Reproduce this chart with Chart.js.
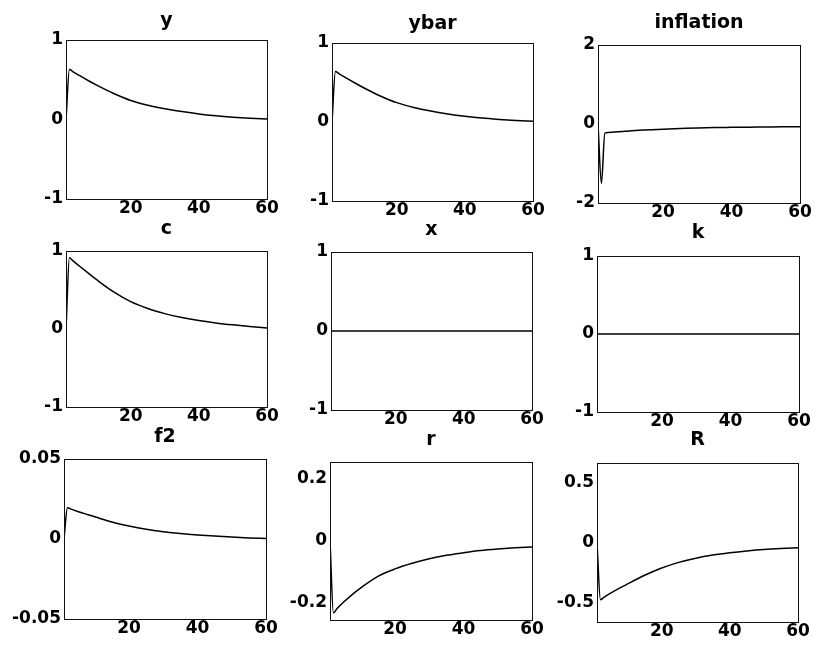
<!DOCTYPE html>
<html>
<head>
<meta charset="utf-8">
<script src="https://cdn.jsdelivr.net/npm/chart.js@4.4.0/dist/chart.umd.min.js"></script>
<style>
  body { margin: 0; background: #fff; }
  #fig { position: relative; width: 819px; height: 657px; overflow: hidden; background: #fff; }
  #fig canvas { position: absolute; }
</style>
</head>
<body>
<div id="fig"></div>
<script>
// impulse responses
const periods = [1, 2, 3, 5, 8, 10, 15, 20, 25, 30, 35, 40, 45, 50, 55, 60];

const yVals    = [0, 0.63, 0.603, 0.551, 0.478, 0.432, 0.327, 0.24, 0.18, 0.135, 0.1, 0.07, 0.047, 0.029, 0.015, 0.005];
const ybarVals = [0, 0.64, 0.613, 0.561, 0.487, 0.44, 0.333, 0.245, 0.184, 0.138, 0.102, 0.073, 0.05, 0.033, 0.019, 0.008];
const inflVals = [0, -1.5, -0.23, -0.21, -0.19, -0.175, -0.15, -0.13, -0.115, -0.1, -0.09, -0.085, -0.08, -0.075, -0.07, -0.07];
const cVals    = [0, 0.913, 0.876, 0.805, 0.7, 0.632, 0.475, 0.35, 0.262, 0.197, 0.147, 0.108, 0.078, 0.053, 0.031, 0.013];
const xVals    = [0, 0, 0, 0, 0, 0, 0, 0, 0, 0, 0, 0, 0, 0, 0, 0];
const kVals    = [0, 0, 0, 0, 0, 0, 0, 0, 0, 0, 0, 0, 0, 0, 0, 0];
const f2Vals   = [0, 0.0196, 0.0187, 0.0172, 0.0152, 0.0139, 0.0106, 0.0081, 0.0061, 0.0046, 0.0034, 0.0025, 0.0018, 0.0012, 0.0007, 0.0003];
const rVals    = [0, -0.232, -0.219, -0.197, -0.168, -0.151, -0.114, -0.09, -0.072, -0.057, -0.046, -0.038, -0.031, -0.026, -0.022, -0.019];
const RVals    = [0, -0.475, -0.456, -0.421, -0.373, -0.343, -0.272, -0.212, -0.165, -0.13, -0.104, -0.085, -0.07, -0.058, -0.05, -0.044];

const titles = ['y', 'ybar', 'inflation', 'c', 'x', 'k', 'f2', 'r', 'R'];
const series = [yVals, ybarVals, inflVals, cVals, xVals, kVals, f2Vals, rVals, RVals];
const yLimits = [1, 1, 2, 1, 1, 1, 0.05, 0.255, 0.66];
const yTickSets = [
  [-1, 0, 1], [-1, 0, 1], [-2, 0, 2],
  [-1, 0, 1], [-1, 0, 1], [-1, 0, 1],
  [-0.05, 0, 0.05], [-0.2, 0, 0.2], [-0.5, 0, 0.5]
];
const xTickVals = [20, 40, 60];

// plot boxes in page pixels [left, top, right, bottom] and title centre y
const boxes = [
  [66, 40, 267, 199], [332, 43, 533, 201], [598, 45, 800, 203],
  [66, 251, 267, 407], [331, 252, 532, 410], [597, 256, 799, 412],
  [64, 459, 266, 619], [330, 462, 532, 620], [597, 463, 798, 622]
];
const titleYs = [21, 24, 23, 229, 230, 233, 437, 440, 440];

const PADL = 64, TOPH = 38, BOT = 24, PADR = 16;
const TITLE_SIZE = 19, TICK_SIZE = 17;

// MATLAB style box around the axes
const frame = {
  id: 'frame',
  afterDraw(chart) {
    const a = chart.chartArea;
    const ctx = chart.ctx;
    ctx.save();
    ctx.strokeStyle = '#111';
    ctx.lineWidth = 1;
    ctx.strokeRect(Math.round(a.left) + 0.5, Math.round(a.top) + 0.5,
      Math.round(a.right - a.left), Math.round(a.bottom - a.top));
    ctx.restore();
  }
};

const fig = document.getElementById('fig');

titles.forEach((name, i) => {
  const [L, T, R, B] = boxes[i];
  const canvas = document.createElement('canvas');
  canvas.width = R - L + PADL + PADR;
  canvas.height = B - T + TOPH + BOT;
  canvas.style.left = (L - PADL) + 'px';
  canvas.style.top = (T - TOPH) + 'px';
  fig.appendChild(canvas);

  const d = T - titleYs[i];
  const titlePadBottom = d - TITLE_SIZE * 0.6;
  const lim = yLimits[i];
  const ticksY = yTickSets[i];

  new Chart(canvas, {
    type: 'line',
    data: {
      datasets: [{
        label: name,
        data: periods.map((t, j) => ({ x: t, y: series[i][j] })),
        borderColor: '#000',
        borderWidth: 1.5,
        pointRadius: 0,
        cubicInterpolationMode: 'monotone',
        fill: false
      }]
    },
    options: {
      responsive: false,
      animation: false,
      events: [],
      layout: {
        padding: { left: 0, right: PADR, top: TOPH - TITLE_SIZE * 1.2 - titlePadBottom, bottom: 0 }
      },
      plugins: {
        legend: { display: false },
        tooltip: { enabled: false },
        title: {
          display: true,
          text: name,
          fullSize: false,
          color: '#000',
          font: { family: 'DejaVu Sans', weight: 'bold', size: TITLE_SIZE, lineHeight: 1.2 },
          padding: { top: 0, bottom: titlePadBottom }
        }
      },
      scales: {
        x: {
          type: 'linear',
          min: 1,
          max: 60,
          grid: { display: false, drawTicks: false },
          border: { display: false },
          afterBuildTicks: s => { s.ticks = xTickVals.map(v => ({ value: v })); },
          afterFit: s => { s.height = BOT; },
          ticks: {
            color: '#000',
            padding: -1,
            maxRotation: 0,
            font: { family: 'DejaVu Sans', weight: 'bold', size: TICK_SIZE }
          }
        },
        y: {
          min: -lim,
          max: lim,
          grid: { display: false, drawTicks: false },
          border: { display: false },
          afterBuildTicks: s => { s.ticks = ticksY.map(v => ({ value: v })); },
          afterFit: s => { s.width = PADL; },
          ticks: {
            color: '#000',
            padding: 3,
            font: { family: 'DejaVu Sans', weight: 'bold', size: TICK_SIZE },
            callback: v => String(v)
          }
        }
      }
    },
    plugins: [frame]
  });
});
</script>
</body>
</html>
